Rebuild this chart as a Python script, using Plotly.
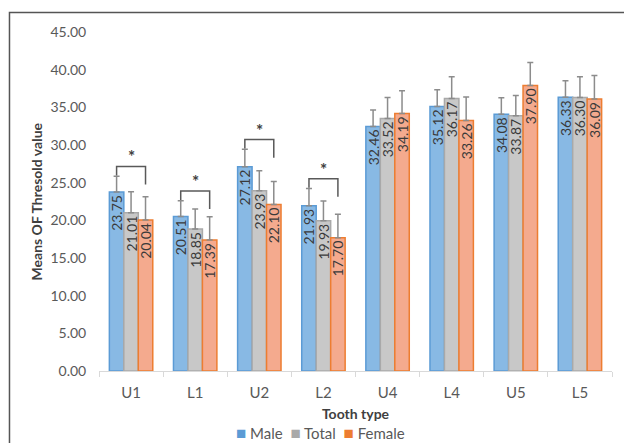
import plotly.graph_objects as go

categories = ["U1", "L1", "U2", "L2", "U4", "L4", "U5", "L5"]
male = [23.75, 20.51, 27.12, 21.93, 32.46, 35.12, 34.08, 36.33]
total = [21.01, 18.85, 23.93, 19.93, 33.52, 36.17, 33.87, 36.30]
female = [20.04, 17.39, 22.10, 17.70, 34.19, 33.26, 37.90, 36.09]
male_err = [2.1, 2.1, 2.3, 2.3, 2.2, 2.2, 2.2, 2.2]
total_err = [2.8, 2.65, 2.65, 2.65, 2.8, 2.9, 2.7, 2.75]
female_err = [3.1, 3.1, 3.05, 3.1, 3.0, 3.1, 3.05, 3.15]
significant = ["U1", "L1", "U2", "L2"]
y_ticks = [0, 5, 10, 15, 20, 25, 30, 35, 40, 45]

BARGAP = 0.323
FONT = "Lato, 'Open Sans', sans-serif"

series = [
    ("Male", male, male_err, "#88b9e4", "#5b9bd5"),
    ("Total", total, total_err, "#c8c8c8", "#a9a9a9"),
    ("Female", female, female_err, "#f4aa8e", "#ed7d31"),
]

fig = go.Figure()
for name, vals, errs, fill, line in series:
    fig.add_trace(go.Bar(
        name=name, x=categories, y=vals,
        marker=dict(color=fill, line=dict(color=line, width=1.5)),
        error_y=dict(type="data", symmetric=False, array=errs,
                     arrayminus=[0] * len(errs), color="#8c8c8c",
                     thickness=1.5, width=3),
        text=[f"{v:.2f}" for v in vals],
        textposition="inside", insidetextanchor="end", textangle=-90,
        constraintext="none",
        textfont=dict(family=FONT, size=14, color="#3a3a3a"),
        cliponaxis=False, showlegend=False,
    ))

# significance brackets between Male and Female bars
off = (1 - BARGAP) / 3
shapes = []
annotations = []
for cat in significant:
    i = categories.index(cat)
    top = male[i] + male_err[i] + 1.3
    xl, xr = i - off, i + off
    shapes.append(dict(type="path", xref="x", yref="y",
                       path=f"M {xl},{top-1.2} L {xl},{top} L {xr},{top} L {xr},{top-2.4}",
                       line=dict(color="#595959", width=1.5)))
    annotations.append(dict(x=i, y=top, xref="x", yref="y", text="<b>*</b>",
                            showarrow=False, yanchor="bottom", yshift=-3,
                            font=dict(family=FONT, size=17, color="#404040")))

# y-axis title
annotations.append(dict(xref="paper", yref="paper", x=-0.121, y=0.5,
                        xanchor="center", yanchor="middle", showarrow=False,
                        textangle=-90, text="<b>Means OF Thresold value</b>",
                        font=dict(family=FONT, size=14, color="#404040")))

# compact legend row (Male / Total / Female)
legend_html = "  ".join(
    f'<span style="color:{line}; font-size:17px">■</span> {name}' for name, _, _, _, line in series
)
annotations.append(dict(xref="paper", yref="paper", x=0.431, y=-0.181,
                        xanchor="center", yanchor="middle", showarrow=False,
                        text=legend_html,
                        font=dict(family=FONT, size=15, color="#595959")))

# outer frame (partially cropped in the reference)
shapes.append(dict(type="rect", xref="paper", yref="paper",
                   x0=-0.1745, x1=1.05, y0=-0.25, y1=1.0575,
                   line=dict(color="#555555", width=1.5), layer="below"))

fig.update_layout(
    width=624, height=443,
    margin=dict(l=99, r=12, t=32, b=72, autoexpand=False),
    paper_bgcolor="white", plot_bgcolor="white",
    barmode="group", bargap=BARGAP, bargroupgap=0,
    font=dict(family=FONT, color="#595959"),
    shapes=shapes, annotations=annotations,
    showlegend=False,
)
fig.update_xaxes(
    automargin=False,
    showline=True, linecolor="#d9d9d9", linewidth=1,
    ticks="outside", tickson="boundaries", ticklen=5, tickcolor="#d9d9d9",
    ticklabelstandoff=8,
    tickfont=dict(family=FONT, size=15, color="#595959"),
    showgrid=False, zeroline=False,
    title=dict(text="<b>Tooth type</b>", standoff=9,
               font=dict(family=FONT, size=14, color="#404040")),
)
fig.update_yaxes(
    automargin=False,
    range=[0, 45], tickvals=y_ticks, tickformat=".2f",
    showline=False, showgrid=False, zeroline=False,
    ticks="outside", ticklen=9, tickcolor="rgba(0,0,0,0)",
    tickfont=dict(family=FONT, size=14, color="#595959"),
)

fig.write_html("out.html", config={"displayModeBar": False},
               post_script="document.body.style.margin='0';")
